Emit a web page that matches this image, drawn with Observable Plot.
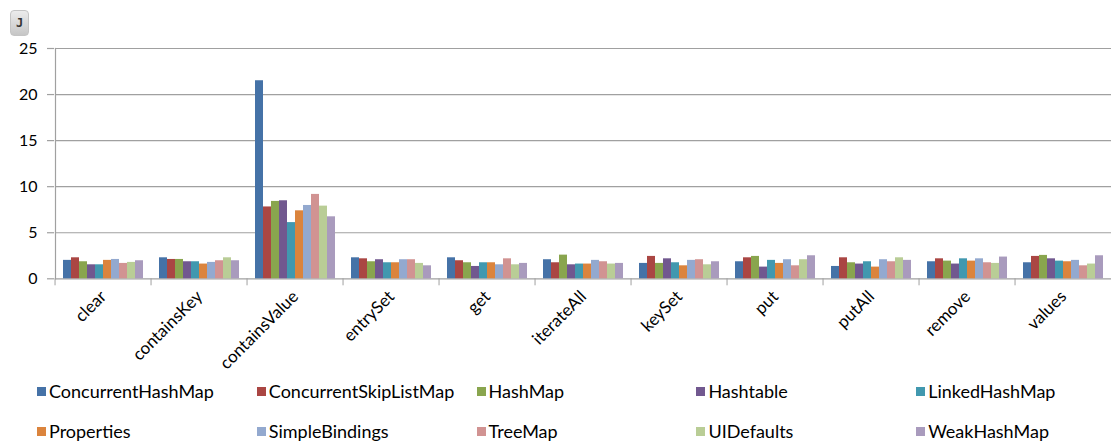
<!DOCTYPE html>
<html><head><meta charset="utf-8">
<script src="https://cdn.jsdelivr.net/npm/d3@7"></script>
<script src="https://cdn.jsdelivr.net/npm/@observablehq/plot@0.6"></script>
<style>
body{margin:0;background:#fff;font-family:Lato,sans-serif;}
#wrap{position:relative;width:1116px;height:444px;overflow:hidden;}
#btn{position:absolute;left:10px;top:10px;width:19px;height:26px;border:1px solid #c4c4c4;border-radius:4px;background:linear-gradient(#ececec,#c6c6c6);box-sizing:border-box;font:bold 12px "DejaVu Sans Mono",monospace;color:#333;text-align:center;line-height:24px;z-index:2;}
#chart{position:absolute;left:0;top:20px;}
#legend{position:absolute;left:0;top:370px;width:1116px;height:74px;}
.item{position:absolute;display:flex;align-items:center;font-size:18px;color:#000;white-space:nowrap;line-height:20px;}
.sw{width:9px;height:9px;margin-right:3px;flex:none;}
</style></head>
<body><div id="wrap"><div id="chart"></div><div id="btn">J</div><div id="legend"></div></div>
<script>
const categories = ["clear","containsKey","containsValue","entrySet","get","iterateAll","keySet","put","putAll","remove","values"];
const series = ["ConcurrentHashMap","ConcurrentSkipListMap","HashMap","Hashtable","LinkedHashMap","Properties","SimpleBindings","TreeMap","UIDefaults","WeakHashMap"];
const colors = ["#4572A7","#AA4643","#89A54E","#71588F","#4198AF","#DB843D","#93A9CF","#D19392","#B9CD96","#A99BBD"];
const yTicks = [0,5,10,15,20,25];

const concurrentHashMap     = [2.00, 2.28, 21.5, 2.28, 2.28, 2.07, 1.67, 1.85, 1.34, 1.85, 1.74];
const concurrentSkipListMap = [2.28, 2.10, 7.80, 2.17, 1.96, 1.74, 2.43, 2.28, 2.28, 2.17, 2.43];
const hashMap               = [1.85, 2.10, 8.40, 1.85, 1.74, 2.57, 1.67, 2.43, 1.74, 1.92, 2.54];
const hashtable             = [1.52, 1.85, 8.47, 2.07, 1.34, 1.52, 2.17, 1.27, 1.60, 1.60, 2.17];
const linkedHashMap         = [1.52, 1.85, 6.10, 1.74, 1.74, 1.60, 1.74, 2.00, 1.85, 2.17, 1.92];
const properties            = [2.00, 1.60, 7.38, 1.74, 1.74, 1.60, 1.41, 1.67, 1.27, 1.92, 1.85];
const simpleBindings        = [2.10, 1.78, 7.96, 2.07, 1.52, 2.00, 2.00, 2.07, 2.07, 2.17, 2.00];
const treeMap               = [1.67, 1.96, 9.16, 2.07, 2.17, 1.85, 2.07, 1.41, 1.85, 1.74, 1.41];
const uiDefaults            = [1.78, 2.28, 7.89, 1.67, 1.52, 1.60, 1.52, 2.07, 2.28, 1.67, 1.60];
const weakHashMap           = [1.96, 1.96, 6.73, 1.41, 1.67, 1.67, 1.85, 2.50, 2.00, 2.36, 2.50];

const seriesValues = [concurrentHashMap, concurrentSkipListMap, hashMap, hashtable, linkedHashMap,
  properties, simpleBindings, treeMap, uiDefaults, weakHashMap];

const data = [];
categories.forEach((c, ci) => series.forEach((s, si) => data.push({category: c, series: s, value: seriesValues[si][ci]})));

const W = 1116, ML = 50, MR = 0;
const S = (W - ML - MR) / categories.length;   // wanted category step
const barW = 8.53;                              // wanted bar width
const grid = "#a0a0a0";

function build(pI, pO) {
  const a = ML + S * (pI / 2 - pO);
  const b = a + S * (categories.length - pI + 2 * pO);
  const bw = (1 - pI) * S;
  const q = Math.max(0, (bw / barW - series.length) / 2);
  const gh = pI * S / 2;  // half gap between facet bands
  return Plot.plot({
    width: W, height: 350,
    marginTop: 28, marginBottom: 91.7, marginLeft: ML, marginRight: MR,
    style: {fontFamily: "Lato, sans-serif", fontSize: "17px", color: "#000", background: "transparent", overflow: "visible"},
    fx: {domain: categories, paddingInner: pI, paddingOuter: pO, range: [a, b], label: null},
    x: {domain: series, paddingInner: 0, paddingOuter: q, axis: null},
    y: {domain: [0, 25], label: null, axis: null},
    color: {domain: series, range: colors},
    marks: [
      Plot.ruleY(yTicks, {stroke: grid, strokeWidth: 1.2, insetLeft: -gh, insetRight: -gh}),
      Plot.ruleY(yTicks, {stroke: grid, strokeWidth: 1.2, facetAnchor: "left", insetLeft: -(gh + 8), insetRight: bw + gh}),
      Plot.frame({anchor: "left", facetAnchor: "left", stroke: grid, strokeWidth: 1.2, dx: -gh}),
      Plot.textY(yTicks, {y: d => d, frameAnchor: "left", textAnchor: "end", dx: -18 - gh, fontSize: 16, fill: "#000", facetAnchor: "left"}),
      Plot.axisFx({anchor: "bottom", tickSize: 0, tickRotate: -45, tickPadding: 15, fontSize: 17, label: null}),
      Plot.axisFx({anchor: "bottom", tickSize: 7, tickFormat: () => "", dx: -S / 2, stroke: grid, label: null}),
      Plot.barY(data, {fx: "category", x: "series", y: "value", fill: "series"})
    ]
  });
}

let chart = build(0, 0);
try {
  const fs = chart.scale("fx");
  const pI = +fs.paddingInner || 0, pO = +fs.paddingOuter || 0;
  if (pI !== 0 || pO !== 0) chart = build(pI, pO);
} catch (e) {}
document.getElementById("chart").appendChild(chart);

const legend = document.getElementById("legend");
series.forEach((s, i) => {
  const it = document.createElement("div");
  it.className = "item";
  it.style.left = (37 + (i % 5) * 219.8) + "px";
  it.style.top = (11 + Math.floor(i / 5) * 40) + "px";
  const sw = document.createElement("span");
  sw.className = "sw";
  sw.style.background = colors[i];
  it.appendChild(sw);
  it.appendChild(document.createTextNode(s));
  legend.appendChild(it);
});
</script>
</body></html>
